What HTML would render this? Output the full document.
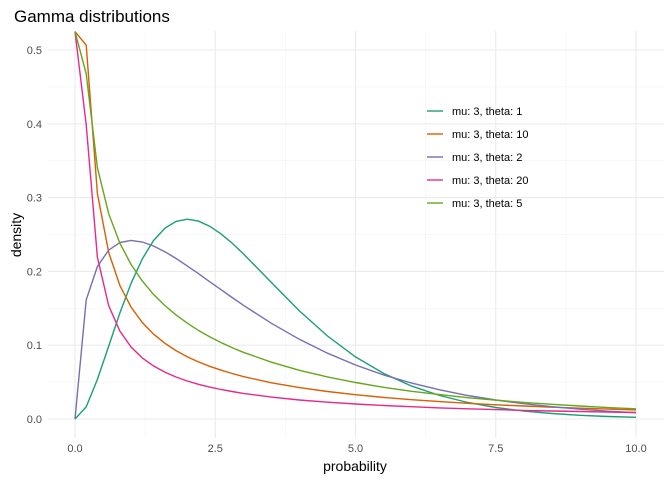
<!DOCTYPE html>
<html><head><meta charset="utf-8"><style>
body{margin:0;background:#fff}
svg text{font-family:"Liberation Sans",Arial,sans-serif}
</style></head><body>
<svg id="chart" width="672" height="480" xmlns="http://www.w3.org/2000/svg">
<rect width="672" height="480" fill="#fff"/>
<text x="14" y="22" font-size="17" fill="#000">Gamma distributions</text>
<g id="grid"></g><g id="axes"></g><g id="lines"></g><g id="legend"></g>
<text x="355" y="471" font-size="14" text-anchor="middle">probability</text>
<text transform="translate(21,235) rotate(-90)" font-size="14" text-anchor="middle">density</text>
</svg>
<script>
const xs = [0,0.2,0.4,0.6,0.8,1,1.2,1.4,1.6,1.8,2,2.2,2.4,2.6,2.8,3,3.5,4,4.5,5,5.5,6,6.5,7,7.5,8,8.5,9,9.5,10];
const seriesNames = ["mu: 3, theta: 1","mu: 3, theta: 10","mu: 3, theta: 2","mu: 3, theta: 20","mu: 3, theta: 5"];
const theta1 = [0,.0164,.0536,.0988,.1438,.1839,.2169,.2417,.2584,.2678,.2707,.2681,.2613,.2510,.2384,.2240,.1850,.1465,.1125,.0842,.0618,.0446,.0318,.0223,.0156,.0107,.0074,.0050,.0034,.0023];
const theta10 = [.525,.5065,.3056,.2256,.1808,.1516,.1308,.1151,.1027,.0927,.0844,.0774,.0714,.0662,.0616,.0575,.0491,.0425,.0373,.0329,.0293,.0262,.0236,.0213,.0193,.0176,.0160,.0146,.0134,.0123];
const theta2 = [0,.1614,.2066,.2289,.2392,.2420,.2398,.2344,.2267,.2176,.2075,.1970,.1861,.1753,.1646,.1542,.1297,.1080,.0892,.0732,.0598,.0487,.0395,.0319,.0257,.0207,.0166,.0133,.0106,.0085];
const theta20 = [.525,.3988,.2191,.1537,.1191,.0976,.0827,.0719,.0635,.0569,.0515,.0470,.0432,.0400,.0372,.0347,.0297,.0258,.0228,.0203,.0183,.0166,.0151,.0138,.0127,.0117,.0109,.0101,.0094,.0088];
const theta5 = [.525,.4677,.3405,.2782,.2382,.2093,.1870,.1689,.1538,.1410,.1299,.1201,.1115,.1037,.0968,.0904,.0769,.0660,.0570,.0494,.0430,.0376,.0330,.0289,.0255,.0225,.0199,.0176,.0155,.0138];
const xTicks = [0,2.5,5,7.5,10];
const xTickLabels = ["0.0","2.5","5.0","7.5","10.0"];
const yTicks = [0,0.1,0.2,0.3,0.4,0.5];
const yTickLabels = ["0.0","0.1","0.2","0.3","0.4","0.5"];

const colors = ["#1B9E77","#D95F02","#7570B3","#E7298A","#66A61E"];
const allSeries = [theta1,theta10,theta2,theta20,theta5];
const L=48,R=664,T=31,B=438;
const sx = v => 75 + v*56.1;
const sy = v => 419 - v*738;
const NS="http://www.w3.org/2000/svg";
function mk(tag, attrs, parent){const e=document.createElementNS(NS,tag);for(const k in attrs)e.setAttribute(k,attrs[k]);parent.appendChild(e);return e;}
const grid=document.getElementById('grid'), axes=document.getElementById('axes'), lines=document.getElementById('lines'), legend=document.getElementById('legend');
// minor grid
for(let i=0;i<xTicks.length-1;i++){const v=(xTicks[i]+xTicks[i+1])/2;
 const g=mk('line',{x1:sx(v),x2:sx(v),y1:T,y2:B,stroke:'#f2f2f2','stroke-width':0.6},grid);
 
 }
for(let i=0;i<yTicks.length-1;i++){const v=(yTicks[i]+yTicks[i+1])/2;
 const g=mk('line',{x1:L,x2:R,y1:sy(v),y2:sy(v),stroke:'#f2f2f2','stroke-width':0.6},grid);
 
 }
xTicks.forEach((v,i)=>{
 const g=mk('line',{x1:sx(v),x2:sx(v),y1:T,y2:B,stroke:'#ebebeb','stroke-width':1.1},grid);
 
 
 const t=mk('text',{x:sx(v),y:452,'font-size':11,'text-anchor':'middle',fill:'#4d4d4d'},axes);t.textContent=xTickLabels[i];
 
 
});
yTicks.forEach((v,i)=>{
 const g=mk('line',{x1:L,x2:R,y1:sy(v),y2:sy(v),stroke:'#ebebeb','stroke-width':1.1},grid);
 
 
 const t=mk('text',{x:42,y:sy(v)+4,'font-size':11,'text-anchor':'end',fill:'#4d4d4d'},axes);t.textContent=yTickLabels[i];
 
 
});
allSeries.forEach((s,k)=>{
 const d=s.map((v,i)=>(i?'L':'M')+sx(xs[i]).toFixed(1)+','+sy(v).toFixed(1)).join(' ');
 const p=mk('path',{d:d,fill:'none',stroke:colors[k],'stroke-width':1.4},lines);
 
 
 const y=111+k*23;
 const ll=mk('line',{x1:427,x2:443,y1:y,y2:y,stroke:colors[k],'stroke-width':1.4},legend);
 
 
 const t=mk('text',{x:452,y:y+4,'font-size':11,fill:'#000'},legend);t.textContent=seriesNames[k];
 
 
});
</script>
</body></html>
